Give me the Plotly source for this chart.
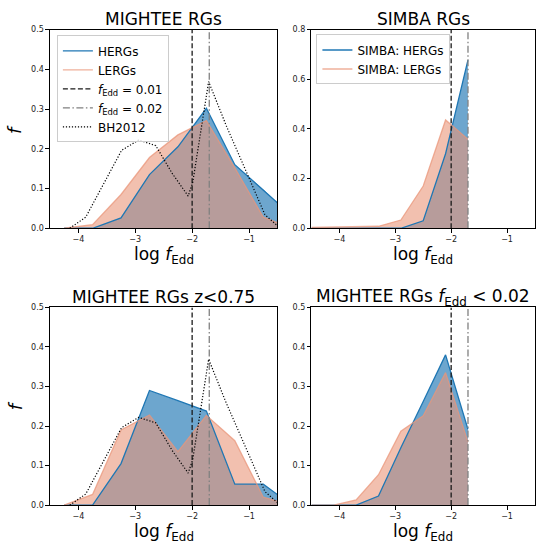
import numpy as np
import plotly.graph_objects as go

W, H = 536, 547

# ---------------- data ----------------
# MIGHTEE bins (log f_Edd bin centres)
x_mightee = [-4.25, -3.75, -3.25, -2.75, -2.25, -1.75, -1.25, -0.75, -0.25]
herg_all = [0.0, 0.0, 0.026, 0.135, 0.205, 0.302, 0.160, 0.098, 0.032]
lerg_all = [0.0, 0.009, 0.085, 0.178, 0.235, 0.271, 0.152, 0.028, 0.0]
herg_lowz = [0.0, 0.0, 0.105, 0.290, 0.264, 0.238, 0.053, 0.053, 0.0]
lerg_lowz = [0.0, 0.027, 0.190, 0.228, 0.135, 0.227, 0.163, 0.020, 0.0]

# finer bins (SIMBA and f_Edd<0.02 sample)
x_fine = [-4.5, -4.1, -3.7, -3.3, -2.9, -2.5, -2.1, -1.7]
simba_herg = [0.0, 0.0, 0.0, 0.0, 0.0, 0.030, 0.300, 0.677]
simba_lerg = [0.003, 0.004, 0.005, 0.008, 0.033, 0.170, 0.436, 0.358]
herg_lowf = [0.0, 0.0, 0.0, 0.023, 0.145, 0.262, 0.380, 0.192]
lerg_lowf = [0.0, 0.0, 0.013, 0.077, 0.187, 0.226, 0.335, 0.160]

# Best & Heckman 2012 comparison
x_bh = [-4.15, -3.87, -3.24, -2.94, -2.64, -2.35, -2.07, -1.99, -1.71, -1.40, -1.05, -0.72, -0.45]
bh2012 = [0.0, 0.028, 0.196, 0.222, 0.208, 0.138, 0.081, 0.115, 0.369, 0.258, 0.143, 0.034, 0.0]

f_edd_lines = [0.01, 0.02]

titles = ["MIGHTEE RGs", "SIMBA RGs", "MIGHTEE RGs z&lt;0.75",
          "MIGHTEE RGs <i>f</i><sub>Edd</sub> &lt; 0.02"]

# ---------------- style ----------------
FONT = "DejaVu Sans"
BLUE = "#1f77b4"
BLUE_FILL = "rgba(31,119,180,0.65)"
SAL_LINE = "rgba(233,150,122,0.75)"
SAL_FILL = "rgba(233,150,122,0.6)"

fig = go.Figure()

panels = [
    dict(ax="", x=x_mightee, h=herg_all, l=lerg_all, bh=True, ymax=0.5,
         leg="legend", hn="HERGs", ln="LERGs", vleg=True),
    dict(ax="2", x=x_fine, h=simba_herg, l=simba_lerg, bh=False, ymax=0.8,
         leg="legend2", hn="SIMBA: HERGs", ln="SIMBA: LERGs", vleg=False),
    dict(ax="3", x=x_mightee, h=herg_lowz, l=lerg_lowz, bh=True, ymax=0.5,
         leg="legend", hn="HERGs", ln="LERGs", vleg=False),
    dict(ax="4", x=x_fine, h=herg_lowf, l=lerg_lowf, bh=False, ymax=0.5,
         leg="legend", hn="HERGs", ln="LERGs", vleg=False),
]

for i, p in enumerate(panels):
    xa, ya = "x" + p["ax"], "y" + p["ax"]
    show = (i == 0) or (i == 1)
    fig.add_trace(go.Scatter(x=p["x"], y=p["h"], xaxis=xa, yaxis=ya, mode="none",
                             fill="tozeroy", fillcolor=BLUE_FILL, showlegend=False,
                             hoverinfo="skip"))
    fig.add_trace(go.Scatter(x=p["x"], y=p["l"], xaxis=xa, yaxis=ya, mode="none",
                             fill="tozeroy", fillcolor=SAL_FILL, showlegend=False,
                             hoverinfo="skip"))
    fig.add_trace(go.Scatter(x=p["x"], y=p["h"], xaxis=xa, yaxis=ya, mode="lines",
                             line=dict(color=BLUE, width=1.3), name=p["hn"],
                             showlegend=show, legend=p["leg"]))
    fig.add_trace(go.Scatter(x=p["x"], y=p["l"], xaxis=xa, yaxis=ya, mode="lines",
                             line=dict(color=SAL_LINE, width=1.3), name=p["ln"],
                             showlegend=show, legend=p["leg"]))
    for f, col, dash in zip(f_edd_lines, ["#1a1a1a", "#808080"],
                            ["5px,2.5px", "7px,2.5px,1.5px,2.5px"]):
        lx = np.log10(f)
        fig.add_trace(go.Scatter(x=[lx, lx], y=[0, p["ymax"]], xaxis=xa, yaxis=ya,
                                 mode="lines", line=dict(color=col, width=1.3, dash=dash),
                                 name="<i>f</i><sub>Edd</sub> = %.2f" % f,
                                 showlegend=p["vleg"], legend="legend"))
    if p["bh"]:
        fig.add_trace(go.Scatter(x=x_bh, y=bh2012, xaxis=xa, yaxis=ya, mode="lines",
                                 line=dict(color="black", width=1.2, dash="1.2px,1.8px"),
                                 name="BH2012", showlegend=(i == 0), legend="legend"))

left = [50 / W, 278 / W]
right = [312 / W, 1.0]
top = [1 - 228 / H, 1 - 26 / H]
bot = [1 - 509.5 / H, 1 - 308.5 / H]
doms = [(left, top), (right, top), (left, bot), (right, bot)]

axis_common = dict(showline=True, mirror=True, linecolor="black", linewidth=1,
                   ticks="outside", ticklen=3.5, tickwidth=0.8, tickcolor="black",
                   showgrid=False, zeroline=False,
                   tickfont=dict(family=FONT, size=8, color="#222"))

layout = {}
for i, ((dx, dy), p) in enumerate(zip(doms, panels)):
    k = p["ax"]
    layout["xaxis" + k] = dict(domain=dx, range=[-4.5, -0.5], tickvals=[-4, -3, -2, -1],
                               anchor="y" + k, **axis_common)
    dt = 0.2 if p["ymax"] > 0.6 else 0.1
    layout["yaxis" + k] = dict(domain=dy, range=[0, p["ymax"]], dtick=dt, tick0=0,
                               tickformat=".1f", anchor="x" + k, **axis_common)

ann = []
title_y = [1 - 15 / H, 1 - 15 / H, 1 - 298 / H, 1 - 298 / H]
xlab_y = [1 - 255.5 / H, 1 - 255.5 / H, 1 - 537 / H, 1 - 537 / H]
for i, (dx, dy) in enumerate(doms):
    cx = (dx[0] + (278 / W if dx[0] < 0.5 else 536 / W)) / 2
    ann.append(dict(text=titles[i], x=cx, y=title_y[i], xref="paper", yref="paper",
                    xanchor="center", yanchor="middle", showarrow=False,
                    font=dict(family=FONT, size=17, color="black")))
    ann.append(dict(text="log <i>f</i><sub>Edd</sub>", x=cx, y=xlab_y[i], xref="paper",
                    yref="paper", xanchor="center", yanchor="middle", showarrow=False,
                    font=dict(family=FONT, size=17, color="black")))
for yy in [1 - 127 / H, 1 - 408 / H]:
    ann.append(dict(text="<i>f</i>", x=15 / W, y=yy, xref="paper", yref="paper",
                    xanchor="center", yanchor="middle", showarrow=False, textangle=-90,
                    font=dict(family=FONT, size=18, color="black")))

fig.update_layout(
    width=W, height=H, margin=dict(l=0, r=0, t=0, b=0),
    paper_bgcolor="white", plot_bgcolor="white",
    annotations=ann,
    legend=dict(x=57 / W, y=1 - 32 / H, xanchor="left", yanchor="top",
                bgcolor="rgba(255,255,255,0.8)", bordercolor="#cccccc", borderwidth=1,
                font=dict(family=FONT, size=12, color="black")),
    legend2=dict(x=317 / W, y=1 - 31 / H, xanchor="left", yanchor="top",
                 bgcolor="rgba(255,255,255,0.8)", bordercolor="#cccccc", borderwidth=1,
                 font=dict(family=FONT, size=12, color="black")),
    **layout,
)

fig.write_html("out.html")
